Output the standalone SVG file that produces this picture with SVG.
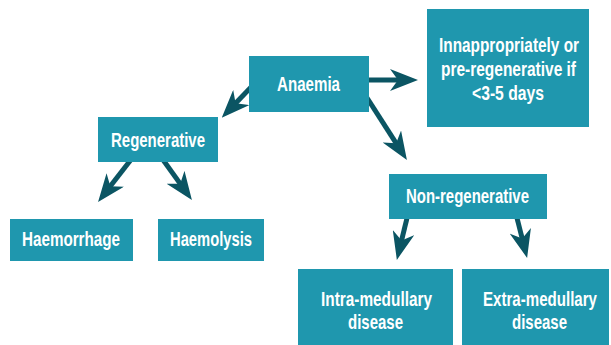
<svg xmlns="http://www.w3.org/2000/svg" width="611" height="345" viewBox="0 0 611 345">
<style>
.box{fill:#1f97ae}
.t{font-family:"Liberation Sans",Arial,sans-serif;font-weight:bold;font-size:19.5px;fill:#ffffff}
.c{stroke:#0b5563;stroke-width:5;fill:none;marker-end:url(#ah)}
</style>
<defs>
<marker id="ah" markerUnits="userSpaceOnUse" viewBox="0 0 28 22" markerWidth="28" markerHeight="22" refX="10" refY="11" orient="auto">
<path d="M28,11 L0,0 L8,11 L0,22 Z" fill="#0b5563"/>
</marker>
</defs>
<rect width="611" height="345" fill="#ffffff"/>
<g id="connectors">
<line class="c" x1="360" y1="80" x2="400" y2="80"/>
<line class="c" x1="362" y1="90" x2="397.2" y2="144.9"/>
<line class="c" x1="256" y1="82" x2="234.2" y2="104.7"/>
<line class="c" x1="133" y1="157" x2="109.1" y2="187.8"/>
<line class="c" x1="161" y1="157" x2="181.4" y2="185.4"/>
<line class="c" x1="408" y1="214" x2="401.1" y2="242.4"/>
<line class="c" x1="516" y1="214" x2="522.7" y2="240.5"/>
</g>
<g id="anaemia">
<rect class="box" x="249" y="56" width="120" height="56"/>
<text class="t" transform="translate(277 91) scale(0.8 1)" textLength="78.75" lengthAdjust="spacingAndGlyphs" font-size="20.5">Anaemia</text>
</g>
<g id="innappropriately">
<rect class="box" x="427" y="9" width="162" height="118"/>
<text class="t" transform="translate(439 52) scale(0.8 1)" textLength="175" lengthAdjust="spacingAndGlyphs">Innappropriately or</text>
<text class="t" transform="translate(441 76) scale(0.8 1)" textLength="168.75" lengthAdjust="spacingAndGlyphs">pre-regenerative if</text>
<text class="t" transform="translate(472 100) scale(0.8 1)" textLength="90" lengthAdjust="spacingAndGlyphs">&lt;3-5 days</text>
</g>
<g id="regenerative">
<rect class="box" x="98" y="117" width="120" height="45"/>
<text class="t" transform="translate(111 147) scale(0.8 1)" textLength="117.5" lengthAdjust="spacingAndGlyphs">Regenerative</text>
</g>
<g id="haemorrhage">
<rect class="box" x="10" y="219" width="123" height="42"/>
<text class="t" transform="translate(22 246) scale(0.8 1)" textLength="122.5" lengthAdjust="spacingAndGlyphs">Haemorrhage</text>
</g>
<g id="haemolysis">
<rect class="box" x="158" y="219" width="106" height="42"/>
<text class="t" transform="translate(170 246) scale(0.8 1)" textLength="102.5" lengthAdjust="spacingAndGlyphs">Haemolysis</text>
</g>
<g id="nonregenerative">
<rect class="box" x="389" y="174" width="158" height="45"/>
<text class="t" transform="translate(406 203) scale(0.8 1)" textLength="153.75" lengthAdjust="spacingAndGlyphs">Non-regenerative</text>
</g>
<g id="intramedullary">
<rect class="box" x="298" y="269" width="155" height="76"/>
<text class="t" transform="translate(321 306) scale(0.8 1)" textLength="138.75" lengthAdjust="spacingAndGlyphs">Intra-medullary</text>
<text class="t" transform="translate(348 329) scale(0.8 1)" textLength="68.75" lengthAdjust="spacingAndGlyphs">disease</text>
</g>
<g id="extramedullary">
<rect class="box" x="462" y="269" width="147" height="76"/>
<text class="t" transform="translate(483 306) scale(0.8 1)" textLength="142.5" lengthAdjust="spacingAndGlyphs">Extra-medullary</text>
<text class="t" transform="translate(512 329) scale(0.8 1)" textLength="68.75" lengthAdjust="spacingAndGlyphs">disease</text>
</g>
</svg>
